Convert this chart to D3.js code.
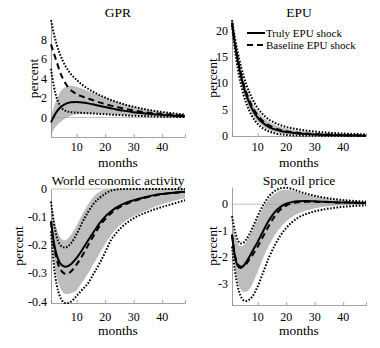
<!DOCTYPE html>
<html>
<head>
<meta charset="utf-8">
<script src="https://cdn.jsdelivr.net/npm/d3@7"></script>
<style>
  body { margin: 0; background: #fff; }
  svg { display: block; font-family: "Liberation Serif", "DejaVu Serif", serif; }
</style>
</head>
<body>
<svg id="chart" width="380" height="348"></svg>
<script>
// horizon (months) shared by every response
const months = [1, 2, 3, 4, 5, 6, 7, 8, 10, 12, 14, 16, 18, 20, 22, 24, 27, 30, 34, 38, 43, 48];
const xTicks = [10, 20, 30, 40];

// GPR response
const gprTruly = [-0.5, 0.1, 0.6, 0.95, 1.2, 1.38, 1.5, 1.57, 1.6, 1.55, 1.45, 1.33, 1.2, 1.07, 0.95, 0.83, 0.68, 0.55, 0.42, 0.31, 0.21, 0.14];
const gprBase = [7.5, 6.6, 5.7, 4.8, 4.1, 3.55, 3.1, 2.8, 2.4, 2.15, 1.95, 1.75, 1.55, 1.38, 1.22, 1.08, 0.88, 0.72, 0.54, 0.4, 0.28, 0.19];
const gprBaseHi = [10, 8.6, 7.5, 6.6, 5.9, 5.3, 4.85, 4.45, 3.85, 3.35, 2.95, 2.6, 2.3, 2.05, 1.8, 1.6, 1.32, 1.1, 0.85, 0.65, 0.45, 0.3];
const gprBaseLo = [5.0, 3.2, 2.0, 1.3, 0.9, 0.7, 0.6, 0.55, 0.5, 0.47, 0.44, 0.41, 0.38, 0.34, 0.3, 0.27, 0.22, 0.18, 0.14, 0.1, 0.07, 0.04];
const gprBandHi = [0.1, 1.1, 1.9, 2.5, 2.9, 3.1, 3.22, 3.25, 3.15, 2.95, 2.72, 2.48, 2.25, 2.02, 1.8, 1.6, 1.33, 1.1, 0.85, 0.65, 0.45, 0.3];
const gprBandLo = [-1.8, -1.2, -0.85, -0.55, -0.3, -0.1, 0.05, 0.18, 0.33, 0.4, 0.42, 0.42, 0.4, 0.37, 0.34, 0.31, 0.26, 0.21, 0.16, 0.12, 0.08, 0.05];

// EPU response
const epuTruly = [21.5, 17.5, 14.3, 11.7, 9.5, 7.8, 6.4, 5.2, 3.5, 2.4, 1.7, 1.25, 0.95, 0.75, 0.6, 0.48, 0.36, 0.28, 0.2, 0.14, 0.1, 0.07];
const epuBase = [21.5, 17.8, 14.7, 12.1, 10.0, 8.3, 6.9, 5.7, 3.9, 2.75, 2.0, 1.5, 1.15, 0.92, 0.75, 0.62, 0.47, 0.37, 0.27, 0.2, 0.14, 0.1];
const epuBaseHi = [22, 18.7, 15.9, 13.5, 11.5, 9.8, 8.4, 7.2, 5.3, 4.0, 3.1, 2.5, 2.05, 1.72, 1.47, 1.27, 1.03, 0.85, 0.66, 0.52, 0.4, 0.32];
const epuBaseLo = [21, 16.4, 12.9, 10.1, 7.9, 6.2, 4.9, 3.8, 2.3, 1.4, 0.85, 0.52, 0.32, 0.2, 0.13, 0.08, 0.05, 0.03, 0.02, 0.01, 0, 0];
const epuBandHi = [21.8, 18.3, 15.4, 12.9, 10.8, 9.1, 7.7, 6.5, 4.7, 3.5, 2.65, 2.1, 1.7, 1.42, 1.2, 1.03, 0.83, 0.68, 0.52, 0.41, 0.31, 0.24];
const epuBandLo = [21.2, 16.8, 13.4, 10.6, 8.4, 6.7, 5.3, 4.2, 2.65, 1.7, 1.1, 0.75, 0.52, 0.38, 0.28, 0.21, 0.14, 0.1, 0.07, 0.05, 0.03, 0.02];

// World economic activity response
const weaTruly = [-0.115, -0.19, -0.235, -0.26, -0.272, -0.276, -0.274, -0.267, -0.245, -0.215, -0.183, -0.152, -0.122, -0.098, -0.08, -0.065, -0.05, -0.04, -0.029, -0.02, -0.014, -0.01];
const weaBase = [-0.115, -0.2, -0.25, -0.28, -0.295, -0.301, -0.3, -0.293, -0.268, -0.236, -0.2, -0.165, -0.133, -0.107, -0.087, -0.071, -0.055, -0.043, -0.031, -0.022, -0.015, -0.011];
const weaBaseHi = [-0.045, -0.12, -0.17, -0.195, -0.206, -0.208, -0.203, -0.193, -0.16, -0.118, -0.082, -0.052, -0.032, -0.017, -0.006, -0.002, 0, 0, 0, 0, 0, 0];
const weaBaseLo = [-0.15, -0.27, -0.34, -0.378, -0.398, -0.405, -0.405, -0.4, -0.38, -0.357, -0.335, -0.3, -0.265, -0.225, -0.182, -0.155, -0.125, -0.104, -0.085, -0.07, -0.055, -0.04];
const weaBandHi = [-0.05, -0.1, -0.14, -0.167, -0.18, -0.182, -0.175, -0.163, -0.13, -0.09, -0.055, -0.027, -0.01, -0.002, 0, 0, 0, 0, 0, 0, 0, 0];
const weaBandLo = [-0.16, -0.25, -0.31, -0.345, -0.365, -0.373, -0.373, -0.37, -0.36, -0.33, -0.3, -0.265, -0.23, -0.195, -0.165, -0.14, -0.115, -0.097, -0.078, -0.06, -0.045, -0.033];

// Spot oil price response
const oilTruly = [-1.15, -1.95, -2.32, -2.4, -2.33, -2.18, -2.0, -1.8, -1.42, -1.0, -0.6, -0.3, -0.1, 0.02, 0.08, 0.11, 0.12, 0.11, 0.09, 0.07, 0.06, 0.05];
const oilBase = [-1.15, -1.9, -2.25, -2.35, -2.33, -2.25, -2.1, -1.95, -1.6, -1.2, -0.8, -0.45, -0.2, -0.05, 0.03, 0.07, 0.09, 0.09, 0.08, 0.07, 0.06, 0.05];
const oilBaseHi = [-0.45, -1.0, -1.35, -1.48, -1.45, -1.33, -1.15, -0.93, -0.45, -0.02, 0.3, 0.5, 0.6, 0.62, 0.58, 0.5, 0.4, 0.32, 0.24, 0.18, 0.13, 0.1];
const oilBaseLo = [-1.6, -2.5, -3.1, -3.45, -3.62, -3.65, -3.6, -3.5, -3.1, -2.55, -2.0, -1.55, -1.18, -0.9, -0.68, -0.52, -0.37, -0.27, -0.18, -0.12, -0.07, -0.04];
const oilBandHi = [-0.7, -1.15, -1.45, -1.58, -1.55, -1.42, -1.22, -1.0, -0.55, -0.12, 0.2, 0.4, 0.52, 0.55, 0.52, 0.46, 0.37, 0.3, 0.22, 0.16, 0.12, 0.08];
const oilBandLo = [-1.6, -2.4, -2.9, -3.2, -3.3, -3.3, -3.22, -3.05, -2.55, -2.0, -1.55, -1.17, -0.88, -0.65, -0.48, -0.36, -0.24, -0.16, -0.09, -0.05, -0.03, -0.02];

const legendLabels = ['Truly EPU shock', 'Baseline EPU shock'];

const panels = [
  { title: 'GPR', left: 51, right: 185, top: 20, bottom: 137, domain: [-2, 10], yTicks: [0, 2, 4, 6, 8],
    truly: gprTruly, base: gprBase, hi: gprBaseHi, lo: gprBaseLo, bandHi: gprBandHi, bandLo: gprBandLo,
    titleY: 17, tickY: 151, labelY: 167, ylabX: 33, zero: true },
  { title: 'EPU', left: 232, right: 366, top: 20, bottom: 136, domain: [0, 22], yTicks: [0, 5, 10, 15, 20],
    truly: epuTruly, base: epuBase, hi: epuBaseHi, lo: epuBaseLo, bandHi: epuBandHi, bandLo: epuBandLo,
    titleY: 17, tickY: 151, labelY: 167, ylabX: 212, zero: false, legend: true },
  { title: 'World economic activity', left: 51, right: 185, top: 189, bottom: 303, domain: [-0.405, 0], yTicks: [-0.4, -0.3, -0.2, -0.1, 0],
    truly: weaTruly, base: weaBase, hi: weaBaseHi, lo: weaBaseLo, bandHi: weaBandHi, bandLo: weaBandLo,
    titleY: 185, tickY: 321, labelY: 335, ylabX: 18, zero: true },
  { title: 'Spot oil price', left: 232, right: 366, top: 187, bottom: 305, domain: [-3.8, 0.65], yTicks: [-3, -2, -1, 0],
    truly: oilTruly, base: oilBase, hi: oilBaseHi, lo: oilBaseLo, bandHi: oilBandHi, bandLo: oilBandLo,
    titleY: 185, tickY: 321, labelY: 335, ylabX: 212, zero: true }
];

const svg = d3.select('#chart');
const axisColor = '#8a8a8a';

const drawPanel = (p) => {
  const x = d3.scaleLinear().domain([1, 48]).range([p.left, p.right]);
  const y = d3.scaleLinear().domain(p.domain).range([p.bottom, p.top]);
  const g = svg.append('g');

  // confidence band of the truly-EPU response
  const area = d3.area()
    .x((d, i) => x(months[i]))
    .y0((d, i) => y(p.bandLo[i]))
    .y1((d, i) => y(p.bandHi[i]))
    .curve(d3.curveMonotoneX);
  g.append('path')
    .datum(months)
    .attr('d', area)
    .attr('fill', '#bdbdbd');

  if (p.zero) {
    g.append('line')
      .attr('x1', p.left).attr('x2', p.right)
      .attr('y1', y(0)).attr('y2', y(0))
      .attr('stroke', '#999').attr('stroke-width', 0.6);
  }

  // axes
  const xAxis = d3.axisBottom(x).tickValues(xTicks).tickSize(-3).tickFormat('');
  g.append('g').attr('transform', `translate(0,${p.bottom})`).call(xAxis)
    .call(s => s.selectAll('line, path').attr('stroke', axisColor).attr('stroke-width', 0.8));
  const yAxis = d3.axisLeft(y).tickValues(p.yTicks).tickSize(0).tickFormat('');
  g.append('g').attr('transform', `translate(${p.left},0)`).call(yAxis)
    .call(s => s.selectAll('line, path').attr('stroke', axisColor).attr('stroke-width', 0.8));

  g.selectAll('.xlab').data(xTicks).enter().append('text')
    .attr('x', d => x(d)).attr('y', p.tickY)
    .attr('text-anchor', 'middle').attr('font-size', 12).text(d => d);
  g.selectAll('.ylab').data(p.yTicks).enter().append('text')
    .attr('x', p.left - 4).attr('y', d => y(d) + 4)
    .attr('text-anchor', 'end').attr('font-size', 12).text(d => String(d));

  const line = vals => d3.line()
    .x((d, i) => x(months[i]))
    .y((d, i) => y(vals[i]))
    .curve(d3.curveMonotoneX)(months);

  // baseline bounds (dotted), baseline response (dashed), truly response (solid)
  [p.hi, p.lo].forEach(v => {
    g.append('path').attr('d', line(v))
      .attr('fill', 'none').attr('stroke', '#000')
      .attr('stroke-width', 2).attr('stroke-dasharray', '1.6,1.6');
  });
  g.append('path').attr('d', line(p.base))
    .attr('fill', 'none').attr('stroke', '#000')
    .attr('stroke-width', 2).attr('stroke-dasharray', '6,4');
  g.append('path').attr('d', line(p.truly))
    .attr('fill', 'none').attr('stroke', '#000').attr('stroke-width', 2);

  // titles and axis labels
  g.append('text')
    .attr('x', (p.left + p.right) / 2).attr('y', p.titleY)
    .attr('text-anchor', 'middle').attr('font-size', 13.5).text(p.title);
  g.append('text')
    .attr('x', (p.left + p.right) / 2).attr('y', p.labelY)
    .attr('text-anchor', 'middle').attr('font-size', 13.5).text('months');
  g.append('text')
    .attr('transform', `translate(${p.ylabX},${(p.top + p.bottom) / 2}) rotate(-90)`)
    .attr('text-anchor', 'middle').attr('dy', '0.35em').attr('font-size', 13.5).text('percent');

  if (p.legend) {
    const lg = g.append('g').attr('transform', 'translate(247,33)');
    legendLabels.forEach((label, i) => {
      lg.append('line')
        .attr('x1', 0).attr('x2', 18).attr('y1', i * 12).attr('y2', i * 12)
        .attr('stroke', '#000').attr('stroke-width', 2)
        .attr('stroke-dasharray', i === 0 ? null : '6,4');
      lg.append('text')
        .attr('x', 19).attr('y', i * 12 + 4)
        .attr('font-size', 11).text(label);
    });
  }
};

panels.forEach(drawPanel);
</script>
</body>
</html>
